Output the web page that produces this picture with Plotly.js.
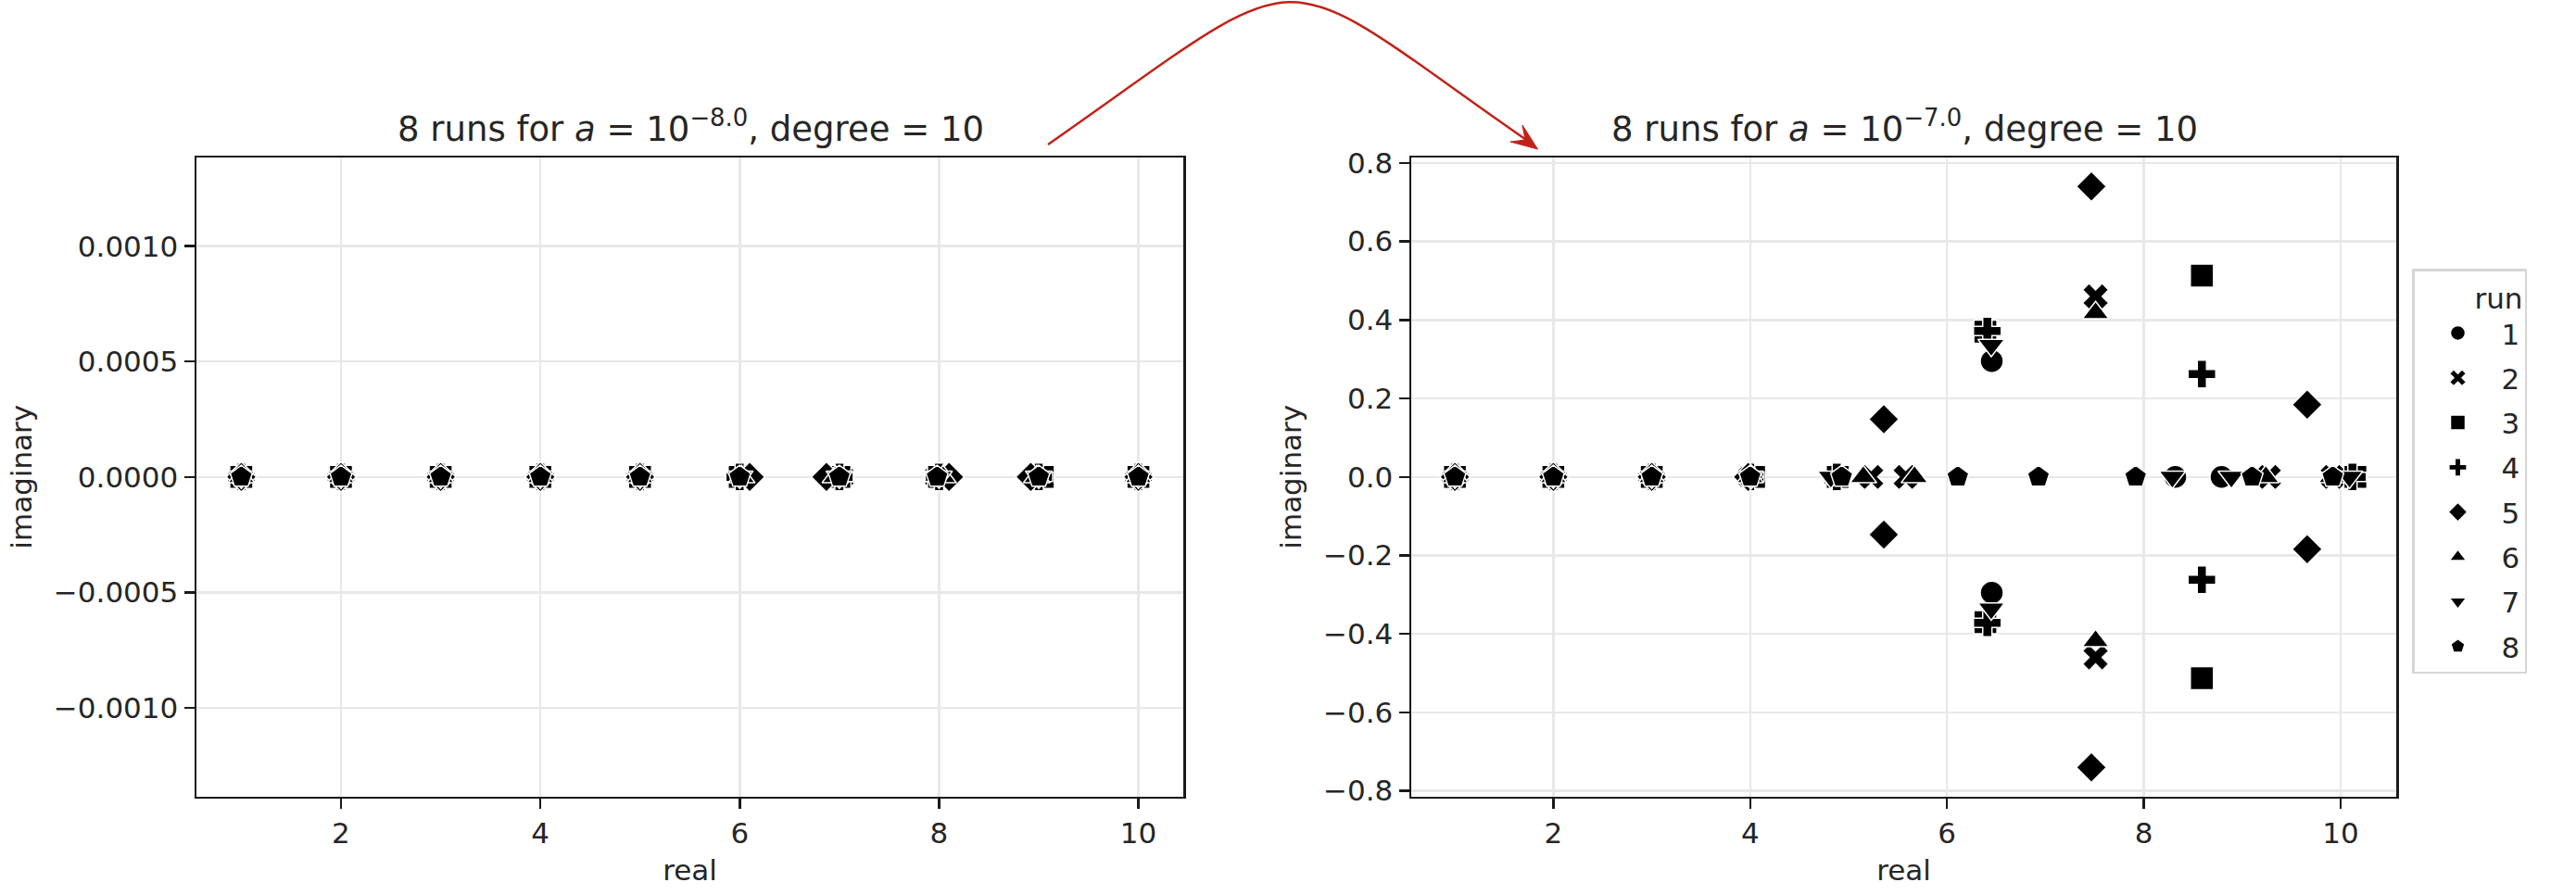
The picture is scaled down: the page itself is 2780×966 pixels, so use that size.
<!DOCTYPE html>
<html>
<head>
<meta charset="utf-8">
<script src="https://cdn.plot.ly/plotly-3.0.1.min.js"></script>
<style>
  body { margin: 0; background: #fff; }
  #chart { width: 2780px; height: 966px; }
</style>
</head>
<body>
<div id="chart"></div>
<script>
// roots of the perturbed degree-10 polynomial, one row per run
var runs = ['1', '2', '3', '4', '5', '6', '7', '8'];
var symbols = ['circle', 'x', 'square', 'cross', 'diamond', 'triangle-up', 'triangle-down', 'pentagon'];

// a = 10^-8
var leftReal = [
  [1, 2, 3, 4, 5, 6, 7, 8, 9, 10],
  [1, 2, 3, 4, 5, 6, 7.02, 7.98, 9, 10],
  [1, 2, 3, 4, 5, 6, 7, 8, 9.04, 10],
  [1, 2, 3, 4, 5, 6, 7, 8, 9, 10],
  [1, 2, 3, 4, 5, 6.1, 6.87, 8.1, 8.92, 10],
  [1, 2, 3, 4, 5, 6.02, 6.96, 8.04, 8.98, 10],
  [1, 2, 3, 4, 5, 6, 7, 8, 9, 10],
  [1, 2, 3, 4, 5, 6, 7, 7.98, 9, 10]
];
var leftImag = [
  [0, 0, 0, 0, 0, 0, 0, 0, 0, 0],
  [0, 0, 0, 0, 0, 0, 0, 0, 0, 0],
  [0, 0, 0, 0, 0, 0, 0, 0, 0, 0],
  [0, 0, 0, 0, 0, 0, 0, 0, 0, 0],
  [0, 0, 0, 0, 0, 0, 0, 0, 0, 0],
  [0, 0, 0, 0, 0, 0, 0, 0, 0, 0],
  [0, 0, 0, 0, 0, 0, 0, 0, 0, 0],
  [0, 0, 0, 0, 0, 0, 0, 0, 0, 0]
];

// a = 10^-7
var rightReal = [
  [1, 2, 3, 4, 4.85, 6.455, 6.455, 8.32, 8.79, 10.1],
  [1, 2, 3, 4, 5.23, 5.58, 7.51, 7.51, 9.27, 9.92],
  [1, 2, 3, 4.04, 4.89, 6.39, 6.39, 8.59, 8.59, 10.15],
  [1, 2, 3, 4, 4.88, 6.41, 6.41, 8.59, 8.59, 10.12],
  [1, 2, 3, 3.98, 5.358, 5.358, 7.467, 7.467, 9.66, 9.66],
  [1, 2, 3, 4, 5.15, 5.67, 7.51, 7.51, 9.24, 9.91],
  [1, 2, 3, 4, 4.82, 6.45, 6.45, 8.29, 8.89, 10.09],
  [1, 2, 3, 4, 4.93, 6.11, 6.93, 7.917, 9.1, 9.92]
];
var rightImag = [
  [0, 0, 0, 0, 0, 0.295, -0.295, 0, 0, 0],
  [0, 0, 0, 0, 0, 0, 0.46, -0.46, 0, 0],
  [0, 0, 0, 0, 0, 0.37, -0.37, 0.513, -0.513, 0],
  [0, 0, 0, 0, 0, 0.372, -0.372, 0.262, -0.262, 0],
  [0, 0, 0, 0, 0.147, -0.147, 0.74, -0.74, 0.184, -0.184],
  [0, 0, 0, 0, 0, 0, 0.418, -0.418, 0, 0],
  [0, 0, 0, 0, 0, 0.336, -0.336, 0, 0, 0],
  [0, 0, 0, 0, 0, 0, 0, 0, 0, 0]
];

var xTicks = [2, 4, 6, 8, 10];
var xTickText = ['2', '4', '6', '8', '10'];
var leftYTicks = [-0.001, -0.0005, 0, 0.0005, 0.001];
var leftYTickText = ['\u22120.0010', '\u22120.0005', '0.0000', '0.0005', '0.0010'];
var rightYTicks = [-0.8, -0.6, -0.4, -0.2, 0, 0.2, 0.4, 0.6, 0.8];
var rightYTickText = ['\u22120.8', '\u22120.6', '\u22120.4', '\u22120.2', '0.0', '0.2', '0.4', '0.6', '0.8'];

var W = 2780, H = 966;
function px(x) { return x / W; }
function py(y) { return 1 - y / H; }

var data = [];
for (var i = 0; i < runs.length; i++) {
  data.push({
    type: 'scatter', mode: 'markers',
    x: leftReal[i], y: leftImag[i],
    xaxis: 'x', yaxis: 'y',
    name: runs[i], legendgroup: 'r' + runs[i], showlegend: false,
    marker: { symbol: symbols[i], size: 25, color: '#000', line: { color: '#fff', width: 1.5 } }
  });
}
for (var j = 0; j < runs.length; j++) {
  data.push({
    type: 'scatter', mode: 'markers',
    x: rightReal[j], y: rightImag[j],
    xaxis: 'x2', yaxis: 'y2',
    name: runs[j], legendgroup: 'r' + runs[j],
    marker: { symbol: symbols[j], size: 25, color: '#000', line: { color: '#fff', width: 1.5 } }
  });
}

var axisCommon = {
  showline: true, mirror: true, linecolor: '#1a1a1a', linewidth: 2.5,
  ticks: 'outside', ticklen: 11, tickwidth: 2.5, tickcolor: '#1a1a1a',
  showgrid: true, gridcolor: '#e8e8e8', gridwidth: 2.5,
  zeroline: false, automargin: false,
  tickfont: { size: 31 }
};
function axis(extra) { return Object.assign({}, axisCommon, extra); }

var layout = {
  width: W, height: H,
  margin: { l: 0, r: 0, t: 0, b: 0 },
  paper_bgcolor: '#fff', plot_bgcolor: '#fff',
  font: { family: 'DejaVu Sans', size: 31, color: '#262626' },
  xaxis: axis({ domain: [px(212), px(1277)], range: [0.55, 10.45], tickvals: xTicks, ticktext: xTickText,
    anchor: 'y', title: { text: 'real', font: { size: 31 }, standoff: 12 } }),
  yaxis: axis({ domain: [py(859.5), py(170)], range: [-0.001384, 0.001384], tickvals: leftYTicks, ticktext: leftYTickText,
    anchor: 'x', title: { text: 'imaginary', font: { size: 31 }, standoff: 14 } }),
  xaxis2: axis({ domain: [px(1523), px(2586)], range: [0.556, 10.565], tickvals: xTicks, ticktext: xTickText,
    anchor: 'y2', title: { text: 'real', font: { size: 31 }, standoff: 12 } }),
  yaxis2: axis({ domain: [py(859.5), py(170)], range: [-0.814, 0.814], tickvals: rightYTicks, ticktext: rightYTickText,
    anchor: 'x2', title: { text: 'imaginary', font: { size: 31 }, standoff: 14 } }),
  showlegend: true,
  legend: {
    x: px(2603), y: py(290), xanchor: 'left', yanchor: 'top',
    bordercolor: '#d6d6d6', borderwidth: 2.5, bgcolor: '#fff',
    title: { text: 'run', side: 'top right', font: { size: 31 } },
    font: { size: 31 }, itemsizing: 'trace', itemwidth: 84,
    tracegroupgap: 5
  },
  annotations: [
    { text: '8 runs for <i>a</i> = 10<sup>\u22128.0</sup>, degree = 10', xref: 'paper', yref: 'paper',
      x: px(745), y: py(136), xanchor: 'center', yanchor: 'middle', showarrow: false, font: { size: 37 } },
    { text: '8 runs for <i>a</i> = 10<sup>\u22127.0</sup>, degree = 10', xref: 'paper', yref: 'paper',
      x: px(2055), y: py(136), xanchor: 'center', yanchor: 'middle', showarrow: false, font: { size: 37 } }
  ],
  shapes: [
    { type: 'path', xref: 'paper', yref: 'paper', layer: 'above',
      path: 'M ' + px(1131) + ',' + py(156) + ' C ' + px(1427) + ',' + py(-51) + ' ' + px(1363) + ',' + py(-46) + ' ' + px(1650) + ',' + py(153),
      line: { color: '#c0221a', width: 2.5 } },
    { type: 'path', xref: 'paper', yref: 'paper', layer: 'above',
      path: 'M ' + px(1659.5) + ',' + py(161) + ' L ' + px(1643) + ',' + py(135) + ' L ' + px(1646) + ',' + py(151) + ' L ' + px(1630) + ',' + py(153) + ' Z',
      fillcolor: '#c0221a', line: { color: '#c0221a', width: 1 } }
  ]
};

Plotly.newPlot('chart', data, layout, { staticPlot: true });
</script>
</body>
</html>
